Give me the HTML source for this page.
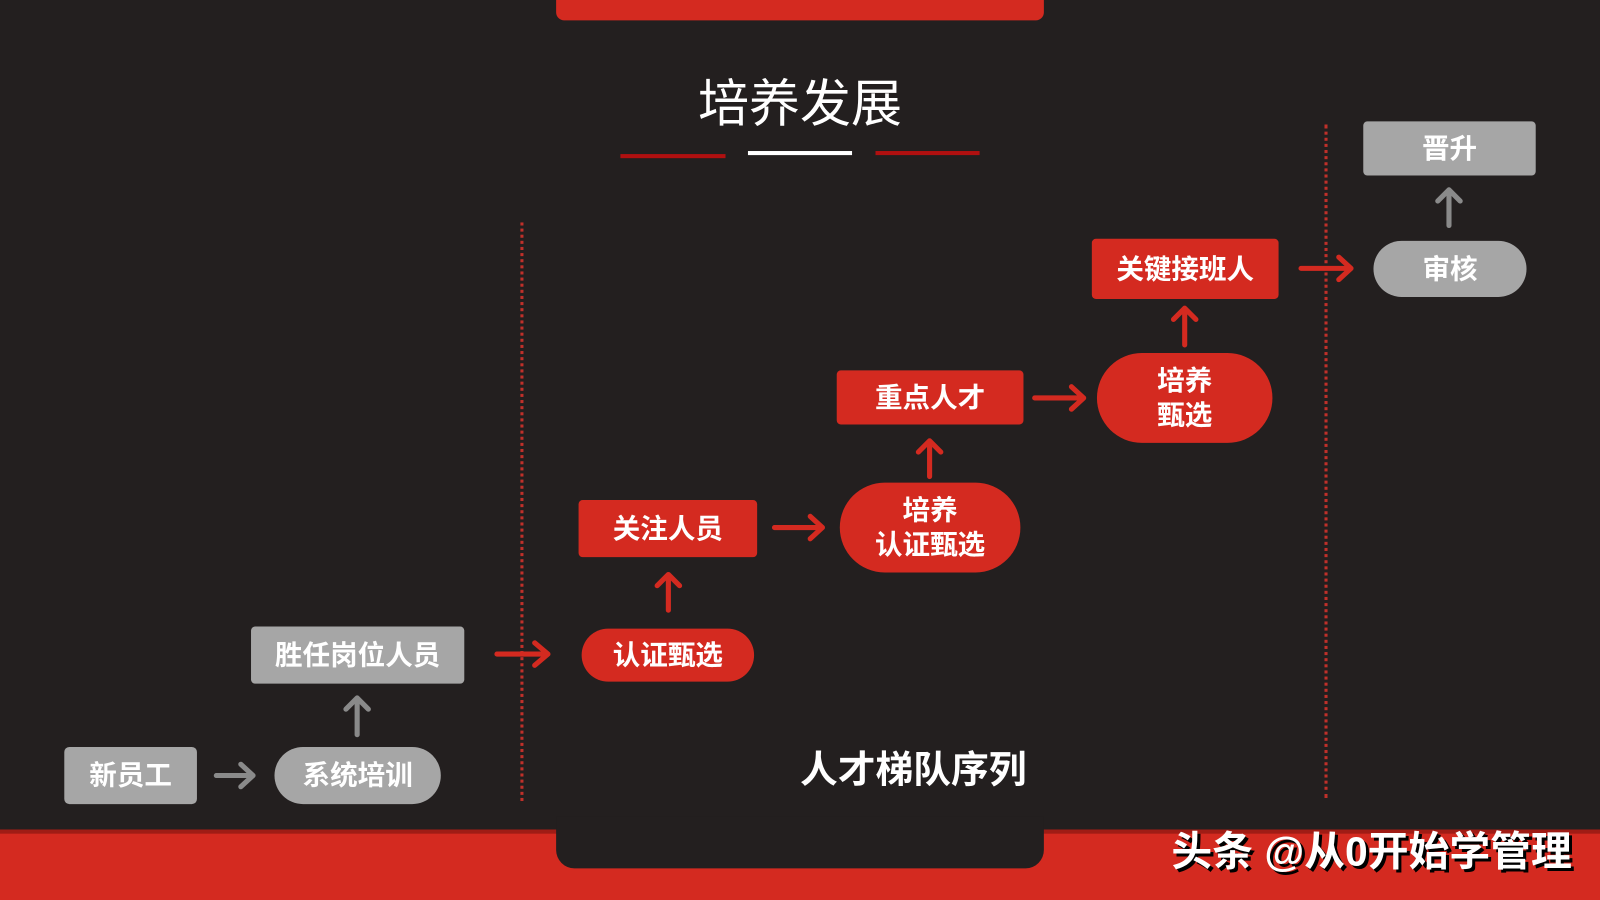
<!DOCTYPE html>
<html><head><meta charset="utf-8"><style>
html,body{margin:0;padding:0;width:1600px;height:900px;overflow:hidden;background:#231f1f}
#s{position:absolute;left:0;top:0;width:1568px;height:882px;transform:scale(1.020408);transform-origin:0 0;background:#231f1f;font-family:"Liberation Sans","Noto Sans CJK SC",sans-serif}
.a{position:absolute}
.b{position:absolute;display:flex;align-items:center;justify-content:center;text-align:center;color:#fff;font-weight:bold;font-size:27px;line-height:34px}
.g{background:#a6a6a6}
.r{background:#d42a20}
</style></head><body><div id="s">
<div class="a r" style="left:545px;top:0;width:478px;height:20px;border-radius:0 0 8px 8px"></div>
<div class="a" style="left:0;top:813px;width:1568px;height:69px;background:#d42a20;border-top:4px solid #a01c15;box-sizing:border-box"></div>
<div class="a" style="left:545px;top:800px;width:478px;height:51px;background:#231f1f;border-radius:0 0 18px 18px"></div>
<div class="a" style="left:584px;top:70px;width:400px;text-align:center;color:#fff;font-size:50px;line-height:64px">培养发展</div>
<div class="a" style="left:608px;top:151px;width:103px;height:4px;background:#b01010"></div>
<div class="a" style="left:733px;top:148px;width:102px;height:4px;background:#fff"></div>
<div class="a" style="left:858px;top:148px;width:102px;height:4px;background:#b01010"></div>
<div class="a" style="left:1148px;top:810px;width:410px;color:#fff;font-weight:bold;font-size:40px;line-height:50px;text-shadow:3px 3px 0 #000">头条 @从0开始学管理</div>
<div class="a" style="left:510px;top:218px;height:567px;border-left:3px dotted #c0302a"></div>
<div class="a" style="left:1298px;top:122px;height:660px;border-left:3px dotted #c0302a"></div>

<div class="b g" style="left:63px;top:732px;width:130px;height:56px;border-radius:5px">新员工</div>
<div class="b g" style="left:269px;top:732px;width:163px;height:56px;border-radius:28px">系统培训</div>
<div class="b g" style="left:246px;top:614px;width:209px;height:56px;border-radius:4px">胜任岗位人员</div>
<div class="b g" style="left:1336px;top:119px;width:169px;height:53px;border-radius:4px">晋升</div>
<div class="b g" style="left:1346px;top:236px;width:150px;height:55px;border-radius:28px">审核</div>

<div class="b r" style="left:570px;top:616px;width:169px;height:52px;border-radius:26px">认证甄选</div>
<div class="b r" style="left:567px;top:490px;width:175px;height:56px;border-radius:4px">关注人员</div>
<div class="b r" style="left:823px;top:473px;width:177px;height:88px;border-radius:44px">培养<br>认证甄选</div>
<div class="b r" style="left:820px;top:363px;width:183px;height:53px;border-radius:4px">重点人才</div>
<div class="b r" style="left:1075px;top:346px;width:172px;height:88px;border-radius:44px">培养<br>甄选</div>
<div class="b r" style="left:1070px;top:234px;width:183px;height:59px;border-radius:4px">关键接班人</div>

<div class="a" style="left:680px;top:730px;width:430px;text-align:center;color:#fff;font-weight:bold;font-size:37px;line-height:50px">人才梯队序列</div>

<svg class="a" style="left:0;top:0" width="1568" height="882" fill="none" stroke-width="5" stroke-linecap="round" stroke-linejoin="round">
<g stroke="#8a8a8a">
<path d="M212 760H248M236 749L248 760L236 771"/>
<path d="M350 720V684M339 695L350 684L361 695"/>
<path d="M1420 221V186M1409 197L1420 186L1431 197"/>
</g>
<g stroke="#d42a20">
<path d="M487 641H537M524 630L537 641L524 652"/>
<path d="M655 598V563M644 574L655 563L666 574"/>
<path d="M759 517H806M794 506L806 517L794 528"/>
<path d="M911 467V432M900 443L911 432L922 443"/>
<path d="M1014 390H1062M1050 379L1062 390L1050 401"/>
<path d="M1161 338V302M1150 313L1161 302L1172 313"/>
<path d="M1275 263H1324M1312 252L1324 263L1312 274"/>
</g>
</svg>
</div></body></html>
